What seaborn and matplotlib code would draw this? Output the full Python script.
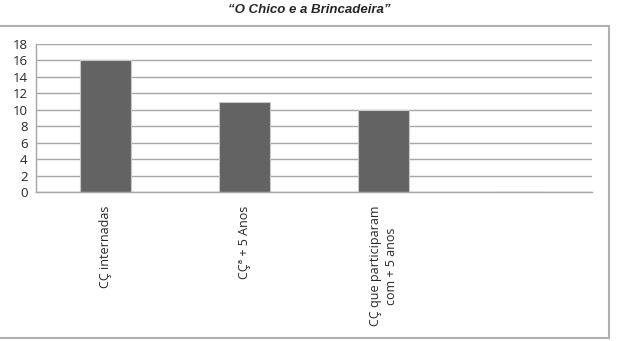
import matplotlib
matplotlib.use("Agg")
import matplotlib.pyplot as plt
import matplotlib.patches as mpatches
import seaborn as sns
import pandas as pd

# ── Data ───────────────────────────────────────────────────────────────────
categories = ["CÇ internadas", "CÇª + 5 Anos", "CÇ que participaram\ncom + 5 anos", ""]
values = [16, 11, 10, 0]
y_ticks = list(range(0, 19, 2))

C_BAR = "#636363"
C_GRID = "#a6a6a6"

df = pd.DataFrame({"cat": categories, "val": values})

sns.set_style("white")
fig = plt.figure(figsize=(6.18, 3.41), dpi=100)
ax = fig.add_axes([0.058, 0.437, 0.9, 0.434])

sns.barplot(data=df, x="cat", y="val", order=categories, color=C_BAR,
            width=0.37, saturation=1, linewidth=0.8, edgecolor="#c8c8c8", ax=ax)

ax.set_xlim(-0.5, len(categories) - 0.5)
ax.set_ylim(0, 18)
ax.set_yticks(y_ticks)
ax.yaxis.grid(True, color=C_GRID, linewidth=1)
ax.set_axisbelow(True)
ax.set_xlabel("")
ax.set_ylabel("")

# ticks at category boundaries
ax.set_xticks([i + 0.5 for i in range(-1, len(categories))], minor=True)
ax.tick_params(axis="x", which="minor", length=4, color=C_GRID, width=1)
ax.tick_params(axis="x", which="major", length=0, pad=10)
ax.tick_params(axis="y", length=4, color=C_GRID, width=1, pad=2)
ax.set_xticks(range(len(categories)))
ax.set_xticklabels(categories, rotation=90, va="top", ha="center",
                   fontsize=9, family="Open Sans", linespacing=1.25)
for lab in ax.get_yticklabels():
    lab.set_fontsize(9.5)
    lab.set_family("Open Sans")

for s in ["top", "right"]:
    ax.spines[s].set_visible(False)
for s in ["left", "bottom"]:
    ax.spines[s].set_color(C_GRID)
    ax.spines[s].set_linewidth(1)

# chart frame
fig.patches.append(mpatches.Rectangle((-0.01, 0.009), 0.995, 0.915,
                                      transform=fig.transFigure, fill=False,
                                      edgecolor="#b0b0b0", linewidth=1.5))

fig.text(0.5, 0.97, "\u201cO Chico e a Brincadeira\u201d", ha="center", va="center",
         fontsize=9.5, fontweight="bold", fontstyle="italic", family="Liberation Sans")

fig.savefig("out.png", dpi=100, facecolor="white")
